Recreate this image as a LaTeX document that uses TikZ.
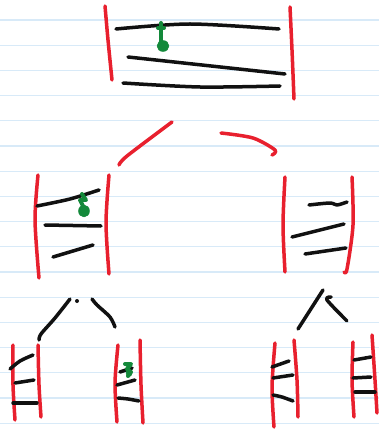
\documentclass[tikz,border=0pt]{standalone}
\usepackage{tikz}
\usetikzlibrary{calc}
\definecolor{RuleBlue}{HTML}{D8EAF8}
\definecolor{InkRed}{HTML}{E8202E}
\definecolor{InkBlack}{HTML}{111111}
\definecolor{InkGreen}{HTML}{13893A}
\tikzset{
  ruling/.style={RuleBlue, line width=1.2pt},
  redink/.style={InkRed, line width=3.5pt, line cap=round, line join=round},
  blackink/.style={InkBlack, line width=3.5pt, line cap=round, line join=round},
  greenink/.style={InkGreen, line width=4pt, line cap=round, line join=round},
  greenblob/.style={fill=InkGreen, draw=InkGreen}
}

\begin{document}
\begin{tikzpicture}[x=1pt, y=-1pt]
\useasboundingbox (0,0) rectangle (379,435);
\fill[white] (0,0) rectangle (379,435);
% lined paper
\foreach \k in {0,...,16}
  \draw[ruling] (0,20+25.2*\k) -- (379,20+25.2*\k);

% top block
\draw[redink] plot[smooth] coordinates {(105,6) (108,40) (112,80)};
\draw[redink] plot[smooth] coordinates {(290,7) (292,50) (294,99)};
\draw[blackink] plot[smooth] coordinates {(116,29) (190,24) (279,29)};
\draw[blackink] (128,57) -- (285,74);
\draw[blackink] plot[smooth] coordinates {(123,83) (200,87) (280,86)};
\draw[greenink] (161,23) -- (161,43);
\draw[greenink] (158,28) -- (164,28);
\fill[greenblob] (163,46) ellipse (6 and 5.5);

% red split
\draw[redink] plot[smooth] coordinates {(119,165) (127,156) (172,122)};
\draw[redink] plot[smooth] coordinates {(221,133) (253,138) (275,150) (272,155)};

% middle left block
\draw[redink] plot[smooth] coordinates {(38,175) (35,220) (39,278)};
\draw[redink] plot[smooth] coordinates {(109,175) (106,223) (109,274)};
\draw[blackink] plot[smooth] coordinates {(37,206) (70,199) (99,190)};
\draw[blackink] (45,225) -- (101,226);
\draw[blackink] (53,257) -- (93,245);
\draw[greenink] (82,194) -- (86,200) -- (80,200) -- (84,208);
\fill[greenblob] (84,211) ellipse (5.5 and 6);

% middle right block
\draw[redink] plot[smooth] coordinates {(285,177) (283,225) (285,272)};
\draw[redink] plot[smooth] coordinates {(352,177) (353,225) (347,269) (344,272)};
\draw[blackink] plot[smooth] coordinates {(309,205) (330,203) (337,205) (347,202)};
\draw[blackink] (292,237) -- (344,224);
\draw[blackink] (305,254) -- (346,248);

% black split left
\draw[blackink] plot[smooth] coordinates {(39,340) (41,334) (55,318) (70,299)};
\fill[InkBlack] (77,301) circle (2);
\draw[blackink] plot[smooth] coordinates {(92,299) (97,305) (110,317) (115,327)};

% black split right
\draw[blackink] (298,329) -- (323,290);
\draw[blackink] plot[smooth] coordinates {(331,297) (327,300) (347,321)};

% leaf 1
\draw[redink] plot[smooth] coordinates {(13,345) (13,385) (15,420)};
\draw[redink] plot[smooth] coordinates {(38,345) (39,385) (41,417)};
\draw[blackink] plot[smooth] coordinates {(10,369) (20,361) (33,355)};
\draw[blackink] (15,383) -- (34,380);
\draw[blackink] (13,403) -- (37,403);

% leaf 2
\draw[redink] plot[smooth] coordinates {(118,345) (115,383) (117,422)};
\draw[redink] plot[smooth] coordinates {(140,340) (141,385) (143,423)};
\draw[blackink] (120,372) -- (132,368);
\draw[blackink] (117,385) -- (135,380);
\draw[blackink] plot[smooth] coordinates {(118,398) (128,399) (139,401)};
\draw[greenink] (125,364) -- (131,364) -- (127,369) -- (131,372) -- (128,376);
\fill[greenblob] (129,373) ellipse (3 and 3.5);

% leaf 3
\draw[redink] plot[smooth] coordinates {(275,343) (272,387) (274,427)};
\draw[redink] plot[smooth] coordinates {(294,340) (297,380) (298,417)};
\draw[blackink] (272,367) -- (289,361);
\draw[blackink] (273,378) -- (293,375);
\draw[blackink] plot[smooth] coordinates {(273,395) (282,397) (293,401)};

% leaf 4
\draw[redink] plot[smooth] coordinates {(353,342) (352,380) (354,417)};
\draw[redink] plot[smooth] coordinates {(372,335) (375,380) (377,413)};
\draw[blackink] (354,360) -- (371,357);
\draw[blackink] (353,378) -- (371,377);
\draw[blackink] (355,392) -- (375,392);
\end{tikzpicture}
\end{document}
